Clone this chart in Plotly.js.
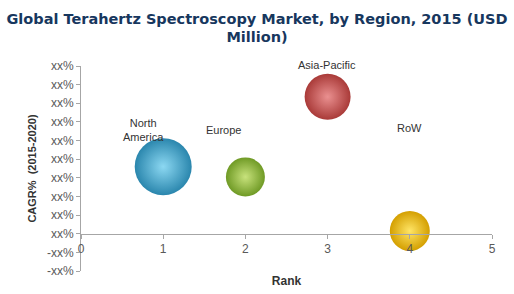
<!DOCTYPE html>
<html><head><meta charset="utf-8">
<script src="https://cdn.plot.ly/plotly-3.0.1.min.js"></script>
<style>html,body{margin:0;padding:0;background:#fff;}#c{width:514px;height:294px;}</style>
</head><body><div id="c"></div>
<script>
var regions = ["North America", "Europe", "Asia-Pacific", "RoW"];
var ranks = [1, 2, 3, 4];
var cagr = [3.6, 3.05, 7.35, 0.15];
var marketSize = [57, 39, 46, 40];
var labelText = ["North<br>America", "Europe", "Asia-Pacific", "RoW"];
var labelX = [0.76, 1.73, 2.99, 4.0];
var labelY = [5.55, 5.56, 8.95, 5.67];
var yTickVals = [-2, -1, 0, 1, 2, 3, 4, 5, 6, 7, 8, 9];
var yTickText = ["-xx%", "-xx%", "xx%", "xx%", "xx%", "xx%", "xx%", "xx%", "xx%", "xx%", "xx%", "xx%"];
var xTickVals = [0, 1, 2, 3, 4, 5];

var edgeColors = ["#2a86ad", "#6f9a25", "#a93a38", "#d49f00"];
var centerColors = ["#8cd8f2", "#c8e27c", "#ea9090", "#ffe566"];

var traces = regions.map(function (r, i) {
  return {
    type: "scatter", mode: "markers",
    x: [ranks[i]], y: [cagr[i]], name: r,
    marker: {
      size: marketSize[i], color: edgeColors[i], line: {width: 0},
      gradient: {type: "radial", color: centerColors[i]}
    },
    hoverinfo: "name"
  };
});

var annotations = regions.map(function (r, i) {
  return {
    x: labelX[i], y: labelY[i], xref: "x", yref: "y", text: labelText[i],
    yshift: i === 2 ? 2 : 0,
    showarrow: false, font: {family: "Liberation Sans, Arial, sans-serif", size: 11, color: "#333333"}
  };
});

var layout = {
  width: 514, height: 294,
  margin: {l: 80.7, r: 21.7, t: 65.7, b: 23.3},
  paper_bgcolor: "#ffffff", plot_bgcolor: "#ffffff",
  showlegend: false,
  title: {
    text: "Global Terahertz Spectroscopy Market, by Region, 2015 (USD<br>Million)",
    font: {family: "DejaVu Sans, Verdana, sans-serif", size: 14.5, color: "#17375e", weight: "bold"},
    x: 0.5, xanchor: "center", y: 0.92, yanchor: "top"
  },
  xaxis: {
    range: [0, 5], tickvals: xTickVals, ticktext: xTickVals.map(String),
    anchor: "free", position: 0.1805,
    showgrid: false, zeroline: false, showline: true, linecolor: "#a6a6a6", linewidth: 1,
    ticks: "outside", ticklen: 4, tickcolor: "#a6a6a6",
    tickfont: {family: "Liberation Sans, Arial, sans-serif", size: 12, color: "#595959"},
    title: {text: "Rank", standoff: 21, font: {family: "Liberation Sans, Arial, sans-serif", size: 12, color: "#333333", weight: "bold"}},
    fixedrange: true
  },
  yaxis: {
    range: [-2, 9], tickvals: yTickVals, ticktext: yTickText,
    showgrid: false, zeroline: false, showline: true, linecolor: "#a6a6a6", linewidth: 1,
    ticks: "outside", ticklen: 4, tickcolor: "#a6a6a6",
    tickfont: {family: "Liberation Sans, Arial, sans-serif", size: 12, color: "#595959"},
    title: {text: "CAGR%  (2015-2020)", standoff: 8, font: {family: "Liberation Sans, Arial, sans-serif", size: 11, color: "#333333", weight: "bold"}},
    fixedrange: true
  },
  annotations: annotations
};

Plotly.newPlot("c", traces, layout, {displayModeBar: false, staticPlot: true});
</script>
</body></html>
